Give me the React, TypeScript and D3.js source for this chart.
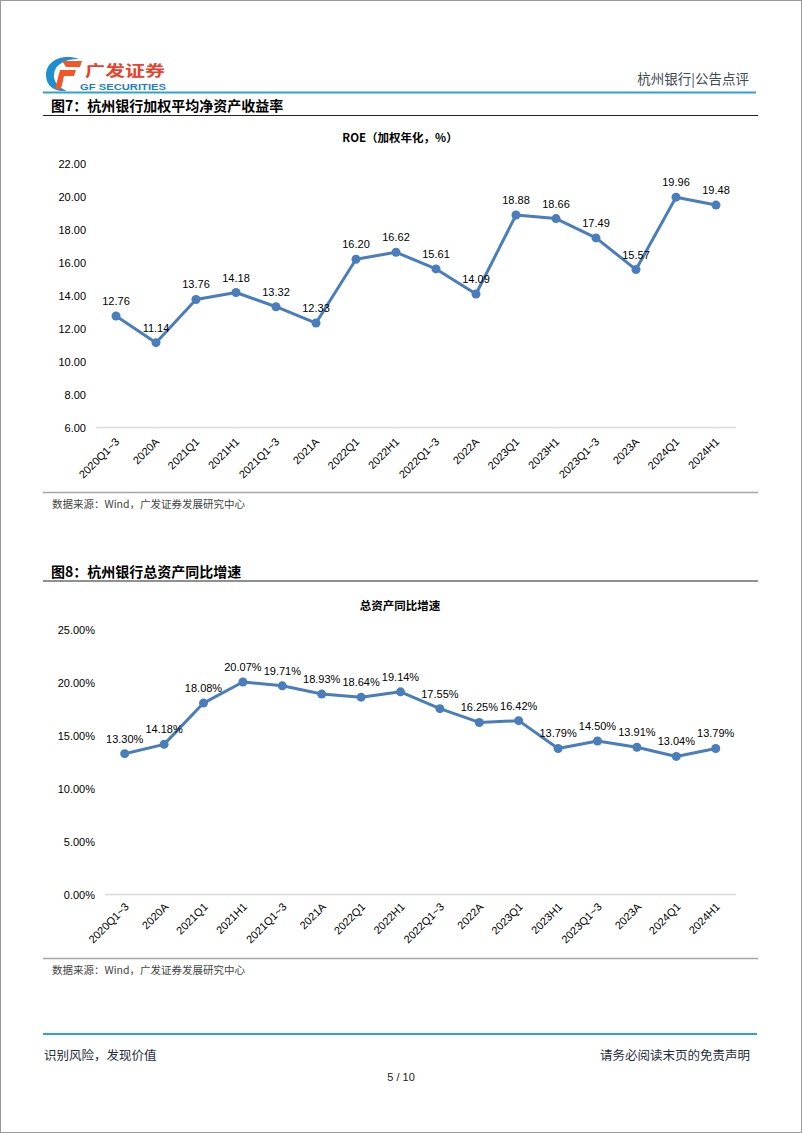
import React from 'react';
import * as d3 from 'd3';

const categories = ['2020Q1~3','2020A','2021Q1','2021H1','2021Q1~3','2021A','2022Q1','2022H1','2022Q1~3','2022A','2023Q1','2023H1','2023Q1~3','2023A','2024Q1','2024H1'];
const roeValues = [12.76,11.14,13.76,14.18,13.32,12.33,16.20,16.62,15.61,14.09,18.88,18.66,17.49,15.57,19.96,19.48];
const assetGrowth = [13.30,14.18,18.08,20.07,19.71,18.93,18.64,19.14,17.55,16.25,16.42,13.79,14.50,13.91,13.04,13.79];
const roeTicks = [6,8,10,12,14,16,18,20,22];
const assetTicks = [0,5,10,15,20,25];

const LINE = '#4a7dbb';
const NUM = '"Liberation Sans", Arial, sans-serif';
const CJK = '"Noto Sans CJK SC", "Liberation Sans", sans-serif';

type ChartProps = {
  values: number[];
  ticks: number[];
  domain: [number, number];
  xRange: [number, number];
  yRange: [number, number];
  axisX: [number, number];
  labelRight: number;
  fmt: (v: number) => string;
  lblDx: number;
  lblDy: number;
};

function LineChart(p: ChartProps) {
  const x = d3.scalePoint<string>().domain(categories).range(p.xRange);
  const y = d3.scaleLinear().domain(p.domain).range(p.yRange);
  const line = d3.line<number>().x((_, i) => x(categories[i]) as number).y(v => y(v));
  const axisY = y(p.domain[0]);
  return (
    <g>
      {p.ticks.map(t => (
        <text key={t} x={p.labelRight} y={y(t) + 4} textAnchor="end" fontFamily={NUM} fontSize={11} fill="#000">{p.fmt(t)}</text>
      ))}
      <line x1={p.axisX[0]} x2={p.axisX[1]} y1={axisY} y2={axisY} stroke="#d9d9d9" strokeWidth={1.5} />
      {categories.map(c => (
        <text key={c} transform={`translate(${(x(c) as number) + p.lblDx},${axisY + p.lblDy}) rotate(-45)`} textAnchor="end" fontFamily={NUM} fontSize={11} fill="#000">{c}</text>
      ))}
      <path d={line(p.values) || ''} fill="none" stroke={LINE} strokeWidth={3} strokeLinejoin="round" />
      {p.values.map((v, i) => (
        <circle key={i} cx={x(categories[i]) as number} cy={y(v)} r={4.5} fill={LINE} />
      ))}
      {p.values.map((v, i) => (
        <text key={'l' + i} x={x(categories[i]) as number} y={y(v) - 11} textAnchor="middle" fontFamily={NUM} fontSize={11} fill="#000">{p.fmt(v)}</text>
      ))}
    </g>
  );
}

export default function App() {
  return (
    <svg width={802} height={1133} style={{ position: 'absolute', left: 0, top: 0, background: '#fff' }}>
      <rect x={0.5} y={0.5} width={801} height={1132} fill="#fff" stroke="#9a9a9a" strokeWidth={1} />
      {/* logo */}
      <g>
        <path d="M79,59 C62,53 46,61 46,75 C46,87 56,92 67,91 C58,87 53,81 54,74 C55,65 64,59 79,59 Z" fill="#1d8fd0" />
        <path d="M62,61 L82,61 L80,67 L66,67 Z" fill="#f0582a" />
        <path d="M60,70 L76,70 L74,76 L64,76 L61,89 L55,89 Z" fill="#f0582a" />
        <text x={85} y={76} fontFamily={CJK} fontWeight={700} fontSize={15} fill="#e8412c" textLength={80} lengthAdjust="spacingAndGlyphs">广发证券</text>
        <text x={80} y={89.5} fontFamily={NUM} fontWeight={700} fontSize={9.5} fill="#1f7fc4" textLength={86} lengthAdjust="spacingAndGlyphs">GF SECURITIES</text>
      </g>
      <text x={749} y={84} textAnchor="end" fontFamily={CJK} fontSize={13.5} fill="#404a55">杭州银行|公告点评</text>
      <line x1={43} x2={756} y1={92.5} y2={92.5} stroke="#2ea3cc" strokeWidth={2} />

      {/* Figure 7 */}
      <text x={51} y={111} fontFamily={CJK} fontWeight={700} fontSize={14} fill="#000">图7：杭州银行加权平均净资产收益率</text>
      <line x1={43} x2={758} y1={115.5} y2={115.5} stroke="#222" strokeWidth={1.2} />
      <text x={400} y={142} textAnchor="middle" fontFamily={CJK} fontWeight={700} fontSize={11.5} fill="#000">ROE（加权年化，%）</text>
      <LineChart values={roeValues} ticks={roeTicks} domain={[6, 22]} xRange={[116, 716]} yRange={[427.5, 163.5]} axisX={[96, 736]} labelRight={86} fmt={v => v.toFixed(2)} lblDx={4} lblDy={15} />
      <line x1={43} x2={758} y1={492.5} y2={492.5} stroke="#a6a6a6" strokeWidth={1.5} />
      <text x={52} y={508} fontFamily={CJK} fontSize={10.5} fill="#444">数据来源：Wind，广发证券发展研究中心</text>

      {/* Figure 8 */}
      <text x={51} y={577} fontFamily={CJK} fontWeight={700} fontSize={14} fill="#000">图8：杭州银行总资产同比增速</text>
      <line x1={43} x2={758} y1={581} y2={581} stroke="#222" strokeWidth={1.2} />
      <text x={400} y={610} textAnchor="middle" fontFamily={CJK} fontWeight={700} fontSize={11.5} fill="#000">总资产同比增速</text>
      <LineChart values={assetGrowth} ticks={assetTicks} domain={[0, 25]} xRange={[124.7, 715.7]} yRange={[894.5, 629.8]} axisX={[105, 736]} labelRight={95} fmt={v => v.toFixed(2) + '%'} lblDx={5} lblDy={13} />
      <line x1={43} x2={758} y1={958.5} y2={958.5} stroke="#a6a6a6" strokeWidth={1.5} />
      <text x={52} y={974} fontFamily={CJK} fontSize={10.5} fill="#444">数据来源：Wind，广发证券发展研究中心</text>

      {/* footer */}
      <line x1={43} x2={757} y1={1034} y2={1034} stroke="#2ea3cc" strokeWidth={2} />
      <text x={44} y={1060} fontFamily={CJK} fontSize={12.5} fill="#1f2d3d">识别风险，发现价值</text>
      <text x={750} y={1060} textAnchor="end" fontFamily={CJK} fontSize={12.5} fill="#1f2d3d">请务必阅读末页的免责声明</text>
      <text x={401} y={1081} textAnchor="middle" fontFamily={NUM} fontSize={11} fill="#222">5 / 10</text>
    </svg>
  );
}
